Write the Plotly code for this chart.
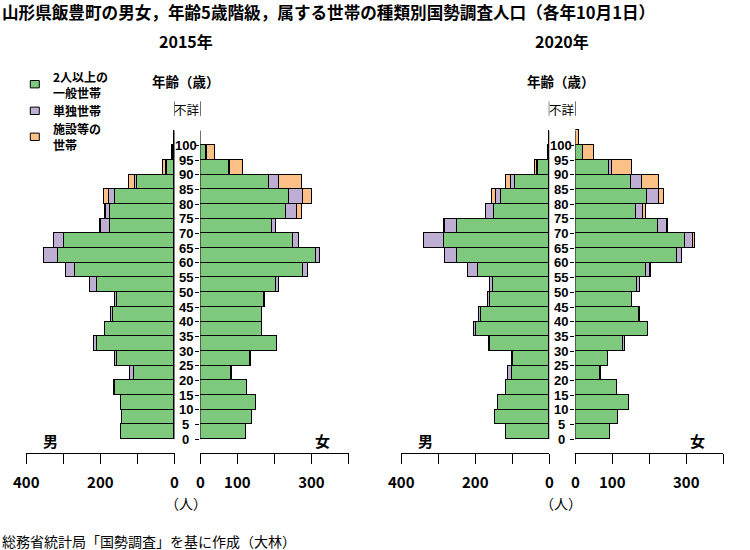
import plotly.graph_objects as go

# ---------------- data ----------------
age_labels = ["0", "5", "10", "15", "20", "25", "30", "35", "40", "45", "50",
              "55", "60", "65", "70", "75", "80", "85", "90", "95", "100"]
series_names = ["2人以上の一般世帯", "単独世帯", "施設等の世帯"]

# 2015
m2015_general = [143, 142, 143, 159, 108, 154, 208, 186, 164, 154, 208, 267, 313, 297, 172, 172, 161, 100, 19, 4, 1]
m2015_single = [0, 0, 0, 3, 11, 5, 8, 2, 6, 6, 19, 25, 39, 27, 25, 13, 16, 5, 4, 1, 0]
m2015_inst = [0, 0, 0, 0, 0, 0, 0, 0, 0, 0, 0, 0, 0, 0, 2, 3, 12, 16, 6, 1, 0]
f2015_general = [123, 141, 152, 128, 84, 136, 208, 168, 166, 172, 204, 279, 314, 250, 193, 233, 239, 185, 77, 17, 1]
f2015_single = [0, 0, 0, 0, 2, 2, 0, 0, 0, 4, 10, 13, 11, 16, 13, 29, 38, 27, 3, 1, 0]
f2015_inst = [0, 0, 0, 0, 0, 0, 0, 0, 0, 0, 0, 0, 0, 0, 0, 12, 26, 62, 37, 23, 0]

# 2020
m2020_general = [115, 146, 138, 115, 99, 97, 159, 197, 183, 159, 152, 191, 250, 284, 248, 148, 129, 91, 29, 3, 1]
m2020_single = [0, 0, 0, 0, 11, 2, 3, 5, 6, 5, 7, 28, 31, 54, 32, 22, 14, 11, 3, 0, 0]
m2020_inst = [0, 0, 0, 0, 0, 0, 0, 0, 0, 0, 0, 0, 0, 0, 3, 0, 10, 14, 5, 1, 0]
f2020_general = [95, 116, 146, 114, 68, 88, 131, 198, 174, 155, 168, 192, 276, 297, 224, 166, 195, 150, 93, 22, 1]
f2020_single = [0, 0, 0, 0, 2, 2, 5, 0, 2, 0, 8, 12, 12, 22, 24, 18, 32, 30, 7, 0, 0]
f2020_inst = [0, 0, 0, 0, 0, 0, 0, 0, 0, 0, 0, 2, 0, 4, 3, 8, 14, 48, 54, 30, 9]

male_ticktext = ["0", "", "200", "", "400"]
female_ticktext = ["0", "100", "", "300", ""]
tick_values = [0, 100, 200, 300, 400]

# ---------------- style ----------------
W, H = 750, 550
COLORS = ["#7FC97F", "#BEAED4", "#FDC086"]
FONT = "Noto Sans CJK JP"
NUMFONT = "Liberation Sans"


def px(x):
    return x / W


def py(y):
    return 1 - y / H


ypos = [i + 0.5 for i in range(len(age_labels))]

fig = go.Figure()

panels = [
    ("x", "y", [m2015_general, m2015_single, m2015_inst]),
    ("x2", "y", [f2015_general, f2015_single, f2015_inst]),
    ("x3", "y2", [m2020_general, m2020_single, m2020_inst]),
    ("x4", "y2", [f2020_general, f2020_single, f2020_inst]),
]
for xa, ya, vals in panels:
    for name, v, c in zip(series_names, vals, COLORS):
        fig.add_trace(go.Bar(
            orientation="h", y=ypos, x=v, width=1, name=name,
            marker=dict(color=c, line=dict(color="black", width=1)),
            xaxis=xa, yaxis=ya, showlegend=False, hoverinfo="x+name",
        ))

# axis geometry (pixels)
Y_ZERO = 439.3
UNIT = 14.7
Y_MIN, Y_MAX = -0.95, 23
y_bottom_px = Y_ZERO - Y_MIN * UNIT
y_top_px = Y_ZERO - Y_MAX * UNIT

xdomains = {
    "xaxis": (26.3, 174.5, [400, 0], male_ticktext, "y"),
    "xaxis2": (200.3, 348.5, [0, 400], female_ticktext, "y"),
    "xaxis3": (401.3, 549.3, [400, 0], male_ticktext, "y2"),
    "xaxis4": (575.3, 723.3, [0, 400], female_ticktext, "y2"),
}
layout_axes = {}
for key, (a, b, rng, tt, anchor) in xdomains.items():
    layout_axes[key] = dict(
        domain=[px(a), px(b)], range=rng, anchor=anchor, automargin=False,
        tickmode="array", tickvals=tick_values, ticktext=tt,
        ticks="outside", ticklen=10, tickwidth=1, tickcolor="black",
        showline=True, linecolor="black", linewidth=1,
        showgrid=False, zeroline=False, fixedrange=True,
        tickfont=dict(family=FONT, size=15, color="black", weight="bold"),
        ticklabelstandoff=6,
    )
ycommon = dict(
    domain=[py(y_bottom_px), py(y_top_px)], range=[Y_MIN, Y_MAX],
    automargin=False,
    tickmode="array", tickvals=list(range(len(age_labels))),
    ticks="outside", ticklen=4, tickwidth=1, tickcolor="black",
    showticklabels=False, showline=False, showgrid=False, zeroline=False,
    fixedrange=True,
)
layout_axes["yaxis"] = dict(ycommon, anchor="x2")
layout_axes["yaxis2"] = dict(ycommon, anchor="x4", matches="y")

shapes = []
for xa, ya in [("x", "y"), ("x2", "y"), ("x3", "y2"), ("x4", "y2")]:
    shapes.append(dict(type="line", xref=xa, yref=ya, x0=0, x1=0, y0=0, y1=21,
                       line=dict(color="black", width=1)))
    shapes.append(dict(type="line", xref=xa, yref=ya, x0=0, x1=0, y0=22, y1=23,
                       line=dict(color="black", width=1)))

annotations = []


def ann(text, x, y, size, bold=False, xanchor="center", yref="paper", yval=None,
        family=FONT, align="center"):
    annotations.append(dict(
        text=text, x=px(x), xref="paper",
        y=py(y) if yval is None else yval, yref=yref,
        xanchor=xanchor, yanchor="middle", showarrow=False, borderpad=0,
        align=align,
        font=dict(family=family, size=size, color="black",
                  weight="bold" if bold else "normal"),
    ))


ann("山形県飯豊町の男女，年齢5歳階級，属する世帯の種類別国勢調査人口（各年10月1日）",
    1, 12, 16.6, bold=True, xanchor="left")
ann("2015年", 185.7, 41, 16, bold=True)
ann("2020年", 561.7, 41, 16, bold=True)

# legend (manual)
legend_rows = [("2人以上の<br>一般世帯", 84.2), ("単独世帯", 110.8), ("施設等の<br>世帯", 136.8)]
for (txt, yc), c in zip(legend_rows, COLORS):
    shapes.append(dict(type="rect", xref="paper", yref="paper",
                       x0=px(30.3), x1=px(39.3), y0=py(yc - 3.7), y1=py(yc + 3.7),
                       fillcolor=c, line=dict(color="black", width=1)))
    ann(txt, 51.5, yc, 12, bold=True, xanchor="left", align="left")

for yr_cx, male_zero, sex_m, sex_f in [(185.5, 174.5, 50, 322.5), (561, 549.3, 425.5, 697.5)]:
    ann("年齢（歳）", yr_cx, 80.7, 13.5, bold=True)
    ann("不詳", male_zero + 12.8, 109, 12.5)
    for i, lab in enumerate(age_labels):
        ann(lab, yr_cx, None, 13, bold=True, yref="y", yval=i, family=NUMFONT)
    ann("男", sex_m, 440.5, 15, bold=True)
    ann("女", sex_f, 440.5, 15, bold=True)
    ann("（人）", yr_cx, 502.7, 14)

ann("総務省統計局「国勢調査」を基に作成（大林）", 1, 540.5, 14, xanchor="left")

fig.update_layout(
    width=W, height=H, margin=dict(l=0, r=0, t=0, b=0, autoexpand=False),
    paper_bgcolor="white", plot_bgcolor="white",
    barmode="stack", bargap=0, showlegend=False,
    shapes=shapes, annotations=annotations,
    font=dict(family=FONT, color="black"),
    **layout_axes,
)

fig.write_html("out.html")
